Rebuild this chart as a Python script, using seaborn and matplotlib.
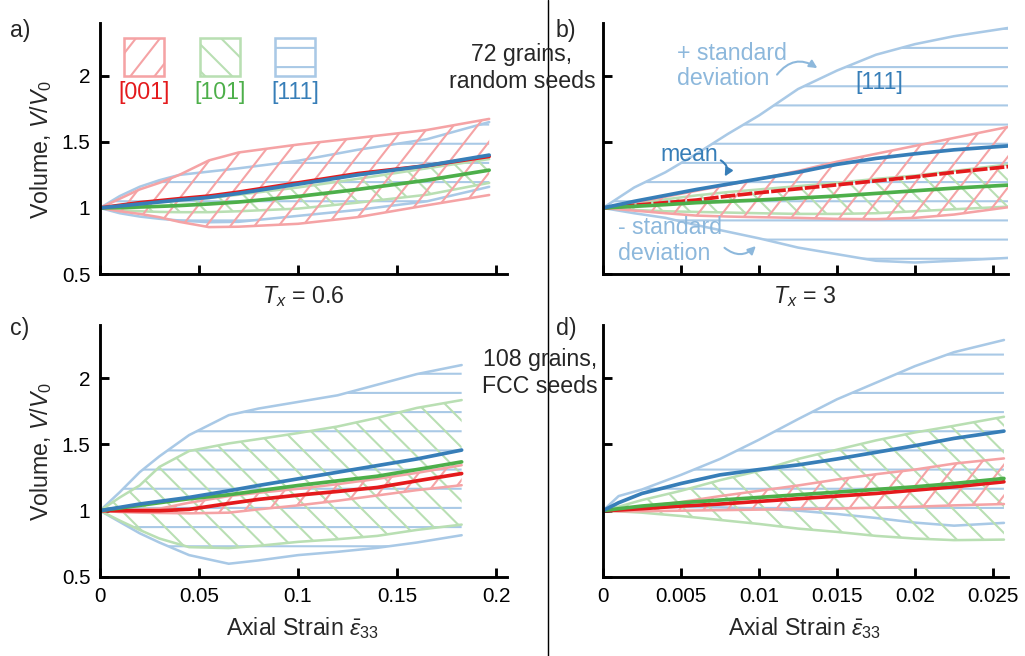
import numpy as np
import pandas as pd
import matplotlib.pyplot as plt
import seaborn as sns
from matplotlib.patches import Rectangle
from matplotlib.lines import Line2D
from matplotlib.collections import LineCollection
from matplotlib.transforms import IdentityTransform

sns.set_theme(style='ticks')
plt.rcParams['font.family'] = ['Liberation Sans', 'DejaVu Sans']
plt.rcParams['mathtext.fontset'] = 'custom'
plt.rcParams['mathtext.rm'] = 'Liberation Sans'
plt.rcParams['mathtext.it'] = 'Liberation Sans:italic'
plt.rcParams['hatch.linewidth'] = 1.3

DPI = 115
W, H = 1025, 656

# orientations
orients = ['001', '101', '111']
dark = {'001': '#e41a1c', '101': '#4daf4a', '111': '#377eb8'}
light = {'001': '#f5a3a5', '101': '#b9dfb3', '111': '#a9c9e6'}
# hatch line angle (deg) for the diagonal hatches, None = horizontal
angles = {'001': 52, '101': -45, '111': None}
GAP = 19  # px between hatch lines

# ---- panel a : T_x = 0.6, 72 grains random seeds
a_x = [0, 0.01, 0.02, 0.03, 0.04, 0.055, 0.07, 0.1, 0.13, 0.165, 0.1965]
a_001_mean = [1.0, 1.02, 1.04, 1.055, 1.07, 1.09, 1.12, 1.19, 1.26, 1.32, 1.39]
a_001_hi = [1.0, 1.07, 1.14, 1.19, 1.25, 1.36, 1.42, 1.48, 1.53, 1.59, 1.674]
a_001_lo = [1.0, 0.975, 0.955, 0.93, 0.895, 0.855, 0.858, 0.88, 0.93, 1.02, 1.098]
a_101_mean = [1.0, 1.003, 1.007, 1.012, 1.018, 1.03, 1.045, 1.087, 1.14, 1.21, 1.286]
a_101_hi = [1.0, 1.02, 1.035, 1.045, 1.055, 1.075, 1.10, 1.155, 1.22, 1.30, 1.37]
a_101_lo = [1.0, 0.985, 0.975, 0.97, 0.968, 0.968, 0.975, 0.995, 1.04, 1.10, 1.19]
a_111_mean = [1.0, 1.015, 1.03, 1.045, 1.06, 1.08, 1.11, 1.18, 1.25, 1.32, 1.40]
a_111_hi = [1.0, 1.09, 1.16, 1.21, 1.25, 1.275, 1.30, 1.357, 1.44, 1.52, 1.65]
a_111_lo = [1.0, 0.96, 0.935, 0.918, 0.905, 0.892, 0.895, 0.94, 0.985, 1.05, 1.16]

# ---- panel b : T_x = 3, 72 grains random seeds
b_x = [0, 0.002, 0.004, 0.006, 0.008, 0.010, 0.0125, 0.015, 0.0175, 0.02, 0.0225, 0.026]
b_001_mean = [1.0, 1.02, 1.04, 1.06, 1.09, 1.115, 1.145, 1.175, 1.205, 1.235, 1.27, 1.313]
b_001_hi = [1.0, 1.04, 1.085, 1.13, 1.175, 1.22, 1.28, 1.35, 1.41, 1.47, 1.53, 1.614]
b_001_lo = [1.0, 0.98, 0.96, 0.942, 0.935, 0.93, 0.925, 0.917, 0.915, 0.925, 0.95, 1.006]
b_101_mean = [1.0, 1.012, 1.025, 1.04, 1.05, 1.06, 1.075, 1.09, 1.11, 1.13, 1.15, 1.173]
b_101_hi = [1.0, 1.03, 1.065, 1.095, 1.12, 1.14, 1.165, 1.19, 1.22, 1.245, 1.28, 1.33]
b_101_lo = [1.0, 0.985, 0.975, 0.97, 0.965, 0.96, 0.955, 0.955, 0.96, 0.975, 0.99, 1.01]
b_111_mean = [1.0, 1.05, 1.095, 1.14, 1.18, 1.22, 1.27, 1.33, 1.375, 1.41, 1.44, 1.47]
b_111_hi = [1.0, 1.155, 1.27, 1.41, 1.56, 1.70, 1.90, 2.04, 2.16, 2.24, 2.30, 2.363]
b_111_lo = [1.0, 0.96, 0.925, 0.87, 0.82, 0.77, 0.70, 0.65, 0.60, 0.587, 0.60, 0.622]

# ---- panel c : T_x = 0.6, 108 grains FCC seeds
c_x = [0, 0.01, 0.02, 0.03, 0.045, 0.065, 0.08, 0.1, 0.12, 0.14, 0.16, 0.1826]
c_001_mean = [1.0, 1.0, 1.0, 1.0, 1.01, 1.054, 1.085, 1.117, 1.145, 1.175, 1.225, 1.28]
c_001_hi = [1.0, 1.003, 1.008, 1.015, 1.06, 1.11, 1.135, 1.165, 1.2, 1.24, 1.285, 1.343]
c_001_lo = [1.0, 0.99, 0.985, 0.983, 0.98, 0.985, 1.01, 1.04, 1.075, 1.115, 1.155, 1.192]
c_101_mean = [1.0, 1.02, 1.04, 1.06, 1.09, 1.12, 1.15, 1.19, 1.225, 1.26, 1.31, 1.368]
c_101_hi = [1.0, 1.10, 1.19, 1.33, 1.45, 1.507, 1.54, 1.585, 1.635, 1.70, 1.775, 1.834]
c_101_lo = [1.0, 0.925, 0.855, 0.79, 0.725, 0.718, 0.735, 0.765, 0.785, 0.81, 0.855, 0.895]
c_111_mean = [1.0, 1.025, 1.05, 1.07, 1.10, 1.15, 1.19, 1.24, 1.29, 1.34, 1.39, 1.457]
c_111_hi = [1.0, 1.14, 1.29, 1.41, 1.57, 1.72, 1.77, 1.82, 1.87, 1.95, 2.03, 2.098]
c_111_lo = [1.0, 0.915, 0.83, 0.76, 0.665, 0.60, 0.625, 0.665, 0.69, 0.72, 0.76, 0.815]

# ---- panel d : T_x = 3, 108 grains FCC seeds
d_x = [0, 0.001, 0.0025, 0.005, 0.0075, 0.01, 0.0125, 0.015, 0.0175, 0.02, 0.0225, 0.0257]
d_001_mean = [1.0, 1.005, 1.015, 1.035, 1.05, 1.07, 1.09, 1.11, 1.13, 1.155, 1.18, 1.218]
d_001_hi = [1.0, 1.01, 1.03, 1.065, 1.11, 1.15, 1.19, 1.235, 1.275, 1.31, 1.355, 1.394]
d_001_lo = [1.0, 0.995, 0.996, 1.0, 1.004, 1.008, 1.012, 1.016, 1.022, 1.03, 1.04, 1.05]
d_101_mean = [1.0, 1.015, 1.035, 1.06, 1.08, 1.1, 1.12, 1.14, 1.16, 1.18, 1.205, 1.243]
d_101_hi = [1.0, 1.03, 1.08, 1.15, 1.23, 1.30, 1.39, 1.46, 1.53, 1.59, 1.64, 1.708]
d_101_lo = [1.0, 0.995, 0.985, 0.96, 0.93, 0.90, 0.865, 0.84, 0.81, 0.79, 0.778, 0.782]
d_111_mean = [1.0, 1.06, 1.13, 1.205, 1.27, 1.31, 1.345, 1.39, 1.44, 1.49, 1.545, 1.6]
d_111_hi = [1.0, 1.11, 1.16, 1.27, 1.39, 1.535, 1.69, 1.84, 1.965, 2.09, 2.195, 2.287]
d_111_lo = [1.0, 1.01, 1.02, 1.028, 1.025, 1.015, 1.0, 0.975, 0.945, 0.91, 0.887, 0.908]

yticks = [0.5, 1, 1.5, 2]
ytick_labels = ['0.5', '1', '1.5', '2']
xticks_big = [0, 0.05, 0.1, 0.15, 0.2]
xtick_labels_big = ['0', '0.05', '0.1', '0.15', '0.2']
xticks_small = [0, 0.005, 0.01, 0.015, 0.02, 0.025]
xtick_labels_small = ['0', '0.005', '0.01', '0.015', '0.02', '0.025']

FS = 14.5
TFS = 13


def long_table(x, series):
    rows = []
    for o in orients:
        for xi, m, hi, lo in zip(x, *series[o]):
            rows.append({'strain': xi, 'orient': o, 'mean': m, 'hi': hi, 'lo': lo})
    return pd.DataFrame(rows)


panels = {
    'a': long_table(a_x, {'001': (a_001_mean, a_001_hi, a_001_lo),
                          '101': (a_101_mean, a_101_hi, a_101_lo),
                          '111': (a_111_mean, a_111_hi, a_111_lo)}),
    'b': long_table(b_x, {'001': (b_001_mean, b_001_hi, b_001_lo),
                          '101': (b_101_mean, b_101_hi, b_101_lo),
                          '111': (b_111_mean, b_111_hi, b_111_lo)}),
    'c': long_table(c_x, {'001': (c_001_mean, c_001_hi, c_001_lo),
                          '101': (c_101_mean, c_101_hi, c_101_lo),
                          '111': (c_111_mean, c_111_hi, c_111_lo)}),
    'd': long_table(d_x, {'001': (d_001_mean, d_001_hi, d_001_lo),
                          '101': (d_101_mean, d_101_hi, d_101_lo),
                          '111': (d_111_mean, d_111_hi, d_111_lo)}),
}

fig = plt.figure(figsize=(W / DPI, H / DPI), dpi=DPI)


def px(x0, y0, w, h):
    # rect in pixel units (top-left origin) -> figure fraction
    return [x0 / W, 1 - (y0 + h) / H, w / W, h / H]


def diag_hatch(ax, angle, color, clip, clip_tr=None):
    # parallel lines across the axes box (in pixels), clipped to a shape
    x0, y0, x1, y1 = ax.bbox.extents
    rad = np.radians(angle)
    hs = GAP / abs(np.sin(rad))
    run = (y1 - y0) / np.tan(rad)
    lo_k, hi_k = min(x0, x0 - run), max(x1, x1 - run)
    ks = np.arange(np.floor(lo_k / hs) * hs, hi_k + hs, hs)
    segs = [[(k, y0), (k + run, y1)] for k in ks]
    lc = LineCollection(segs, colors=color, linewidths=1.3,
                        transform=IdentityTransform())
    ax.add_collection(lc, autolim=False)
    if clip_tr is None:
        lc.set_clip_path(clip)
    else:
        lc.set_clip_path(clip, clip_tr)


axes = {
    'a': fig.add_axes(px(100, 23, 407, 251)),
    'b': fig.add_axes(px(603, 23, 405, 251)),
    'c': fig.add_axes(px(100, 325, 407, 252)),
    'd': fig.add_axes(px(603, 325, 405, 252)),
}

for key, ax in axes.items():
    df = panels[key]
    ax.set_ylim(0.5, 2.4)
    if key in 'ac':
        ax.set_xlim(0, 0.2055)
    else:
        ax.set_xlim(0, 0.02596)
    for o in ['111', '101', '001']:
        sub = df[df['orient'] == o]
        if angles[o] is None:
            ax.fill_between(sub['strain'], sub['lo'], sub['hi'], facecolor='none',
                            edgecolor=light[o], linewidth=0, hatch='-')
        else:
            poly = ax.fill_between(sub['strain'], sub['lo'], sub['hi'],
                                   facecolor='none', edgecolor='none', linewidth=0)
            diag_hatch(ax, angles[o], light[o], poly.get_paths()[0], ax.transData)
        sns.lineplot(data=sub, x='strain', y='hi', color=light[o], lw=1.6,
                     estimator=None, sort=False, ax=ax)
        sns.lineplot(data=sub, x='strain', y='lo', color=light[o], lw=1.6,
                     estimator=None, sort=False, ax=ax)
    for o in orients:
        sub = df[df['orient'] == o]
        ls = (0, (4, 0.6)) if (key == 'b' and o == '001') else '-'
        sns.lineplot(data=sub, x='strain', y='mean', color=dark[o], lw=2.3,
                     linestyle=ls, estimator=None, sort=False, ax=ax)

    ax.set_ylim(0.5, 2.4)
    ax.set_yticks(yticks)
    if key in 'ac':
        ax.set_xlim(0, 0.2055)
        ax.set_xticks(xticks_big)
        ax.set_xticklabels(xtick_labels_big if key == 'c' else [])
    else:
        ax.set_xlim(0, 0.02596)
        ax.set_xticks(xticks_small)
        ax.set_xticklabels(xtick_labels_small if key == 'd' else [])
    ax.set_yticklabels(ytick_labels if key in 'ac' else [])
    ax.set_xlabel('')
    ax.set_ylabel('')
    sns.despine(ax=ax)
    for s in ['left', 'bottom']:
        ax.spines[s].set_linewidth(1.8)
        ax.spines[s].set_color('black')
    ax.tick_params(direction='in', length=5.5, width=1.8, color='black',
                   labelsize=TFS, pad=6, labelcolor='black')
    ax.patch.set_alpha(0)

# legend boxes in panel a
ax = axes['a']
for o, x0 in zip(orients, [0.059, 0.246, 0.43]):
    box = Rectangle((x0, 0.789), 0.098, 0.151, transform=ax.transAxes,
                    facecolor='none', edgecolor=light[o], lw=1.6,
                    hatch='-' if angles[o] is None else None)
    ax.add_patch(box)
    if angles[o] is not None:
        diag_hatch(ax, angles[o], light[o], box)
    ax.text(x0 + 0.049, 0.725, '[' + o + ']', transform=ax.transAxes, color=dark[o],
            ha='center', va='center', fontsize=FS)

# annotations in panel b
ax = axes['b']
std_col = '#8db8dc'
ax.text(0.00474, 2.075, '+ standard\ndeviation', color=std_col, fontsize=FS,
        ha='left', va='center', linespacing=1.15)
ax.annotate('', xy=(0.01391, 2.045), xytext=(0.01103, 1.99),
            arrowprops=dict(arrowstyle='-|>', color=std_col, lw=1.3,
                            connectionstyle='arc3,rad=-0.5', mutation_scale=10))
ax.text(0.01769, 1.947, '[111]', color=dark['111'], fontsize=FS, ha='center', va='center')
ax.text(0.00551, 1.406, 'mean', color=dark['111'], fontsize=FS, ha='center', va='center')
ax.annotate('', xy=(0.00769, 1.218), xytext=(0.00737, 1.372),
            arrowprops=dict(arrowstyle='-|>', color=dark['111'], lw=1.3,
                            connectionstyle='arc3,rad=-0.6', mutation_scale=10))
ax.text(0.00096, 0.756, '- standard\ndeviation', color=std_col, fontsize=FS,
        ha='left', va='center', linespacing=1.15)
ax.annotate('', xy=(0.00994, 0.729), xytext=(0.00763, 0.714),
            arrowprops=dict(arrowstyle='-|>', color=std_col, lw=1.3,
                            connectionstyle='arc3,rad=0.5', mutation_scale=10))


def ftext(x, y, s, **kw):
    fig.text(x / W, 1 - y / H, s, **kw)


ftext(10, 30, 'a)', fontsize=FS, ha='left', va='center')
ftext(556, 30, 'b)', fontsize=FS, ha='left', va='center')
ftext(10, 328, 'c)', fontsize=FS, ha='left', va='center')
ftext(556, 328, 'd)', fontsize=FS, ha='left', va='center')
ftext(522, 68, '72 grains,\nrandom seeds', fontsize=FS, ha='center', va='center',
      linespacing=1.25)
ftext(540, 373, '108 grains,\nFCC seeds', fontsize=FS, ha='center', va='center',
      linespacing=1.25)
ftext(303, 297, '$T_x$ = 0.6', fontsize=FS, ha='center', va='center')
ftext(805, 297, '$T_x$ = 3', fontsize=FS, ha='center', va='center')
ftext(303, 628, r'Axial Strain $\bar{\varepsilon}_{33}$', fontsize=FS, ha='center', va='center')
ftext(805, 628, r'Axial Strain $\bar{\varepsilon}_{33}$', fontsize=FS, ha='center', va='center')
ftext(41, 150, 'Volume, $V/V_0$', fontsize=FS, ha='center', va='center', rotation=90)
ftext(41, 452, 'Volume, $V/V_0$', fontsize=FS, ha='center', va='center', rotation=90)

fig.add_artist(Line2D([548 / W, 548 / W], [0, 1], transform=fig.transFigure,
                      color='black', lw=0.9))

fig.savefig('out.png', dpi=DPI)
